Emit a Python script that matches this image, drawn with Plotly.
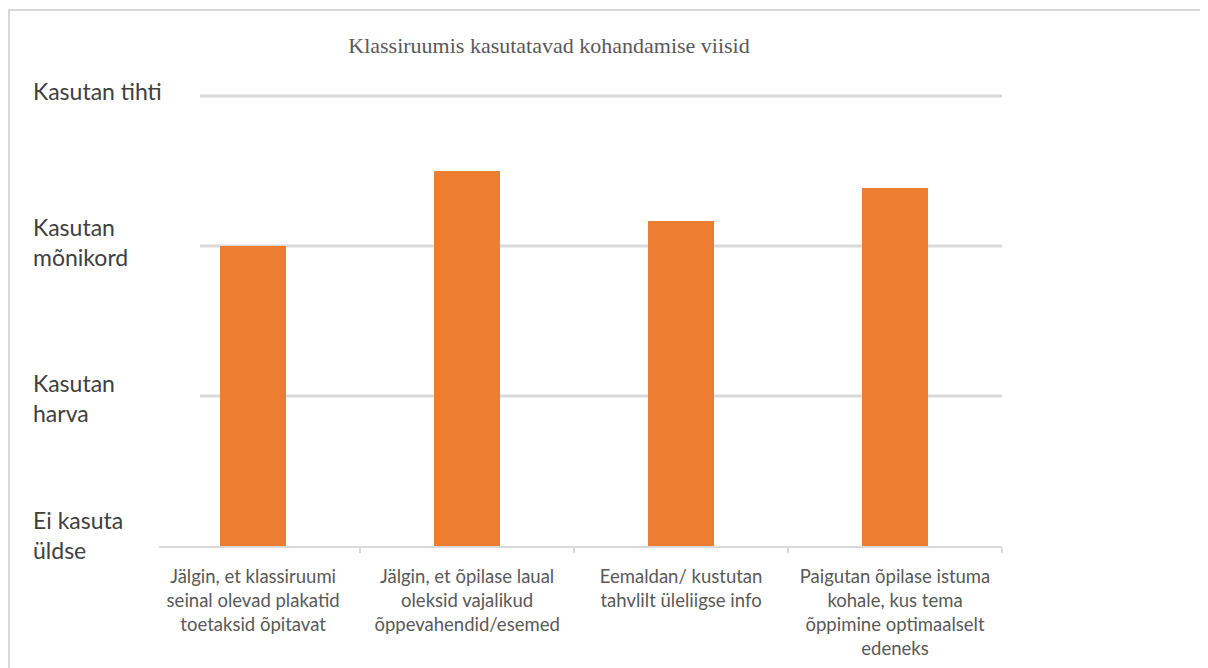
import plotly.graph_objects as go

# data
categories = [
    "Jälgin, et klassiruumi<br>seinal olevad plakatid<br>toetaksid õpitavat",
    "Jälgin, et õpilase laual<br>oleksid vajalikud<br>õppevahendid/esemed",
    "Eemaldan/ kustutan<br>tahvlilt üleliigse info",
    "Paigutan õpilase istuma<br>kohale, kus tema<br>õppimine optimaalselt<br>edeneks",
]
values = [3.0, 3.5, 3.17, 3.39]
level_values = [4, 3, 2, 1]
level_labels = ["Kasutan tihti", "Kasutan<br>mõnikord", "Kasutan<br>harva", "Ei kasuta<br>üldse"]
title_text = "Klassiruumis kasutatavad kohandamise viisid"

# page body has an 8px margin, so the figure is 8px smaller and everything shifted
OFF = 8
W, H = 1208 - OFF, 668 - OFF
L, T = 159 - OFF, 66 - OFF
plot_w = 1002 - 159
plot_h = 546 - 66
R = W - L - plot_w
B = H - T - plot_h

fig = go.Figure()
fig.add_trace(go.Bar(
    x=list(range(len(categories))),
    y=values,
    marker_color="#ED7D31",
    marker_line_width=0,
    width=0.31,
    hoverinfo="y",
))

# gridlines start a bit right of the axis line, like in the original
grid_x0 = (200 - 159) / plot_w
shapes = []
for v in level_values[:-1]:
    shapes.append(dict(type="line", xref="paper", yref="y", x0=grid_x0, x1=1,
                       y0=v, y1=v, line=dict(color="#d9d9d9", width=3), layer="below"))

# chart border
shapes.append(dict(type="rect", xref="paper", yref="paper",
                   x0=(9 - 159) / plot_w, x1=1.4,
                   y0=-0.4, y1=(546 - 10) / plot_h,
                   line=dict(color="#d9d9d9", width=2), layer="below"))

label_shift = [5, 4, -2, 11]
annotations = []
for v, lab, sh in zip(level_values, level_labels, label_shift):
    annotations.append(dict(
        text=lab, xref="paper", yref="y", x=(31 - 159) / plot_w, y=v,
        xanchor="left", yanchor="middle", align="left", showarrow=False,
        yshift=sh, font=dict(family="Lato", size=23, color="#404040"),
    ))

fig.update_layout(
    width=W, height=H,
    margin=dict(l=L, r=R, t=T, b=B, autoexpand=False),
    plot_bgcolor="white", paper_bgcolor="white",
    showlegend=False,
    title=dict(text=title_text, x=(549 - 159) / plot_w, xref="paper", xanchor="center",
               y=1 - (45 - OFF) / H, yref="container", yanchor="middle",
               font=dict(family="Liberation Serif", size=22, color="#595959")),
    shapes=shapes,
    annotations=annotations,
    bargap=0,
)

fig.update_xaxes(
    type="category",
    tickvals=list(range(len(categories))),
    ticktext=categories,
    range=[-0.44, 3.5],
    tickson="boundaries", ticks="outside", ticklen=5, tickcolor="#d9d9d9", tickwidth=2,
    showline=True, linecolor="#d9d9d9", linewidth=2,
    showgrid=False, zeroline=False,
    tickfont=dict(family="Lato", size=18.5, color="#595959"),
    ticklabelstandoff=13,
    automargin=False,
)
fig.update_yaxes(
    range=[1, 4.2],
    showticklabels=False, showgrid=False, zeroline=False, showline=False,
    automargin=False,
)

fig.write_html("out.html")
